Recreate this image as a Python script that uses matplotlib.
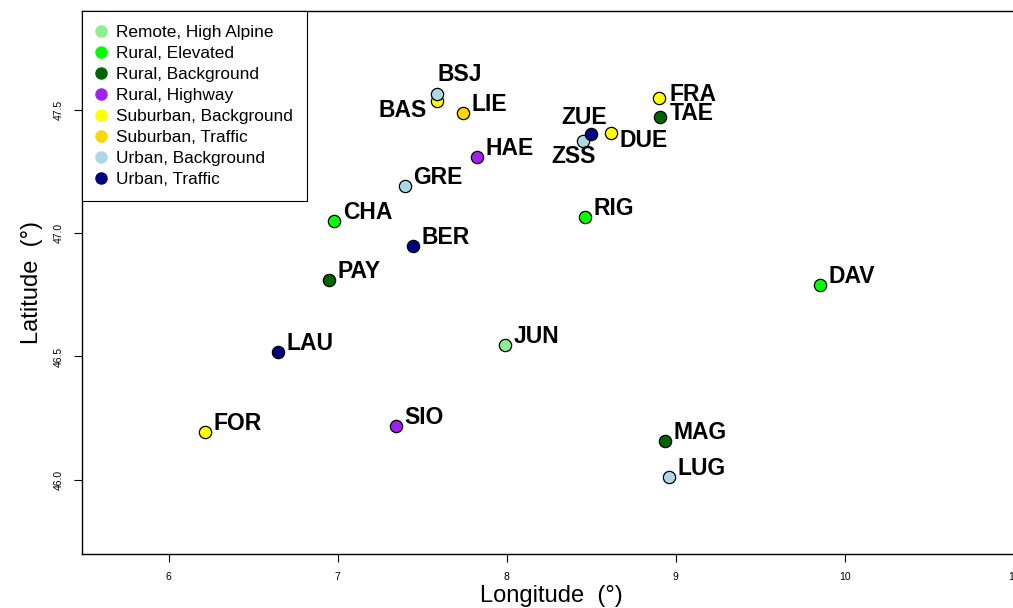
import matplotlib
matplotlib.use("Agg")
import matplotlib.pyplot as plt
from matplotlib.lines import Line2D
from matplotlib import font_manager

# station groups and colours
categories = ["Remote, High Alpine", "Rural, Elevated", "Rural, Background",
              "Rural, Highway", "Suburban, Background", "Suburban, Traffic",
              "Urban, Background", "Urban, Traffic"]
colours = ["#90EE90", "#00FF00", "#006400", "#A020F0",
           "#FFFF00", "#FFD700", "#ADD8E6", "#000080"]

# stations per group: code, longitude, latitude
remote_alpine = [("JUN", 7.988, 46.547)]
rural_elevated = [("CHA", 6.976, 47.049), ("RIG", 8.462, 47.065), ("DAV", 9.852, 46.789)]
rural_background = [("PAY", 6.947, 46.810), ("TAE", 8.905, 47.470), ("MAG", 8.935, 46.158)]
rural_highway = [("HAE", 7.822, 47.308), ("SIO", 7.343, 46.219)]
suburban_background = [("BAS", 7.586, 47.534), ("DUE", 8.615, 47.405),
                       ("FRA", 8.899, 47.547), ("FOR", 6.213, 46.194)]
suburban_traffic = [("LIE", 7.740, 47.486)]
urban_background = [("BSJ", 7.586, 47.563), ("GRE", 7.396, 47.190),
                    ("ZSS", 8.450, 47.372), ("LUG", 8.959, 46.012)]
urban_traffic = [("BER", 7.444, 46.947), ("LAU", 6.645, 46.518), ("ZUE", 8.497, 47.401)]

groups = [remote_alpine, rural_elevated, rural_background, rural_highway,
          suburban_background, suburban_traffic, urban_background, urban_traffic]

# label offsets in pixels (dx, dy up, alignment); default is right of the point
default_off = (9, 2, "left")
label_off = {
    "BSJ": (23, 13, "center"),
    "BAS": (-10, -16, "right"),
    "ZUE": (-7, 10, "center"),
    "ZSS": (-9, -22, "center"),
    "DUE": (9, -14, "left"),
    "FRA": (11, -3, "left"),
    "TAE": (10, -3, "left"),
}

names = {f.name for f in font_manager.fontManager.ttflist}
narrow = "Liberation Sans Narrow" if "Liberation Sans Narrow" in names else "Liberation Sans"

W, H, DPI = 1013, 608, 100
fig = plt.figure(figsize=(W / DPI, H / DPI), dpi=DPI)
left, top, bottom, right = 82, 11, 554, 1020
ax = fig.add_axes([left / W, (H - bottom) / H, (right - left) / W, (bottom - top) / H])

px = 72.0 / DPI  # pixels -> points
for grp, col in zip(groups, colours):
    for code, lon, lat in grp:
        ax.scatter(lon, lat, s=78, c=col, edgecolors="black", linewidths=0.9, zorder=3)
        dx, dy, ha = label_off.get(code, default_off)
        ax.annotate(code, (lon, lat), xytext=(dx * px, dy * px), textcoords="offset points",
                    ha=ha, va="baseline", fontsize=16.5, fontweight="bold",
                    family="Liberation Sans", zorder=4)

ax.set_xlim(5.487, 5.487 + (right - left) / 169.0)
ax.set_ylim(45.700, 47.899)
ax.set_xticks([6, 7, 8, 9, 10, 11])
ax.set_yticks([46.0, 46.5, 47.0, 47.5])
ax.set_xticklabels(["6", "7", "8", "9", "10", "11"])
ax.set_yticklabels(["46.0", "46.5", "47.0", "47.5"], rotation=90, va="center")
ax.tick_params(direction="out", length=6, width=0.8, labelsize=7.5, pad=7)
for lab in ax.get_xticklabels() + ax.get_yticklabels():
    lab.set_family(narrow)
for s in ax.spines.values():
    s.set_linewidth(1.0)

ax.set_xlabel("Longitude  (°)", fontsize=17, family=narrow, labelpad=2)
ax.set_ylabel("Latitude  (°)", fontsize=17, family=narrow, labelpad=8)

handles = [Line2D([], [], marker="o", ls="none", color=c, markersize=8) for c in colours]
leg = ax.legend(handles, categories, loc="upper left", borderaxespad=0, fancybox=False,
                framealpha=1, edgecolor="black", prop={"family": "Liberation Sans", "size": 12.4},
                handlelength=0.6, handletextpad=0.6, labelspacing=0.35, borderpad=0.8)
leg.get_frame().set_linewidth(0.8)

fig.savefig("out.png", dpi=DPI)
